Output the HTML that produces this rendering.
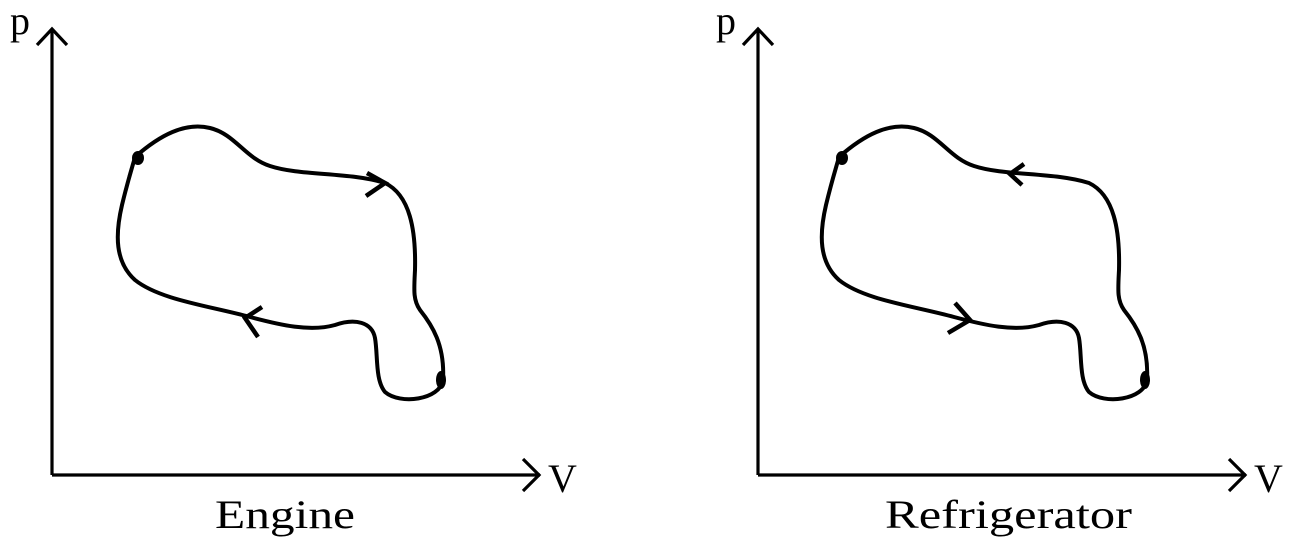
<!DOCTYPE html>
<html><head><meta charset="utf-8"><style>
html,body{margin:0;padding:0;background:#fff;}
svg{display:block;}
text{font-family:"Liberation Serif",serif;fill:#000;}
</style></head><body>
<svg width="1300" height="544" viewBox="0 0 1300 544">
<defs>
<path id="loop" d="M135,157 C160,135 185,122 210,128 C235,134 245,158 270,166 C300,176 350,172 385,183 C410,195 416,230 415,270 C414,290 413,300 420,310 C432,325 445,345 443,380 C440,400 400,405 385,392 C375,380 378,355 375,338 C372,322 355,318 335,325 C310,332 280,325 250,317 C210,306 160,300 135,280 C115,262 115,235 122,205 C128,180 132,168 135,157 Z" fill="none" stroke="#000" stroke-width="4" stroke-linejoin="round"/>
</defs>
<g stroke="#000" stroke-width="3.2" fill="none">
<line x1="52" y1="30" x2="52" y2="475"/>
<line x1="52" y1="475" x2="540" y2="475"/>
<polyline points="37,45 52,29 67,45"/>
<polyline points="523,459 539,475 523,491"/>
<use href="#loop"/>
<polyline points="367,173 385,183 366,196" stroke-width="4.5"/>
<polyline points="262,307 245,318 258,337" stroke-width="4.5"/>
<ellipse cx="138" cy="158" rx="6" ry="7" fill="#000" stroke="none"/>
<ellipse cx="441" cy="380" rx="5" ry="9" fill="#000" stroke="none"/>
</g>
<text x="10" y="34" font-size="40">p</text>
<text x="548" y="492" font-size="40">V</text>
<text x="215" y="528" font-size="40" textLength="140" lengthAdjust="spacingAndGlyphs">Engine</text>

<g stroke="#000" stroke-width="3.2" fill="none">
<line x1="758" y1="30" x2="758" y2="475"/>
<line x1="758" y1="475" x2="1246" y2="475"/>
<polyline points="743,45 758,29 773,45"/>
<polyline points="1229,459 1245,475 1229,491"/>
<use href="#loop" transform="translate(704,0)"/>
<polyline points="1024,164 1010,174 1022,185" stroke-width="4.5"/>
<polyline points="955,303 970,320 948,333" stroke-width="4.5"/>
<ellipse cx="842" cy="158" rx="6" ry="7" fill="#000" stroke="none"/>
<ellipse cx="1145" cy="380" rx="5" ry="9" fill="#000" stroke="none"/>
</g>
<text x="716" y="34" font-size="40">p</text>
<text x="1254" y="492" font-size="40">V</text>
<text x="885" y="528" font-size="40" textLength="247" lengthAdjust="spacingAndGlyphs">Refrigerator</text>
</svg>
</body></html>
